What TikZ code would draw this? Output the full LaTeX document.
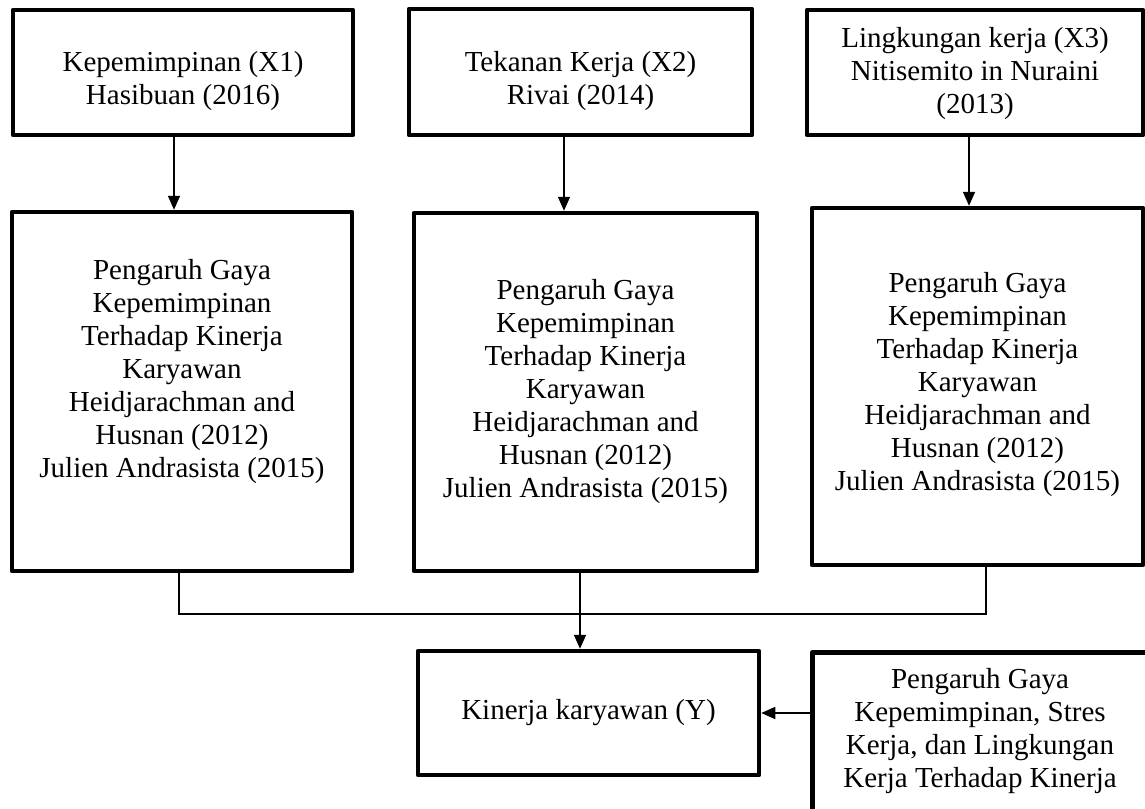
\documentclass[tikz,border=0pt]{standalone}
\usepackage{fontspec}
\setmainfont{Liberation Serif}
\usetikzlibrary{arrows.meta}
\begin{document}
\begin{tikzpicture}[x=1pt,y=-1pt,
  box/.style={draw, line width=4.5pt, line join=round, inner sep=0pt},
  txt/.style={align=center, font=\fontsize{29}{33}\selectfont, inner sep=0pt},
  conn/.style={line width=1.6pt},
  arr/.style={conn, -{Triangle[width=12pt,length=14pt]}}]
\useasboundingbox (0,0) rectangle (1145,808);
\begin{scope}
\clip (0,0) rectangle (1145,808);
% top boxes
\node[box, minimum width=340pt, minimum height=125pt] (b1) at (183,72.5) {};
\node[box, minimum width=343pt, minimum height=126pt] (b2) at (580.5,72) {};
\node[box, minimum width=336pt, minimum height=125pt] (b3) at (975,72.5) {};
\node[txt] (t1) at (183,81) {Kepemimpinan (X1)\\Hasibuan (2016)};
\node[txt] (t2) at (580.5,81) {Tekanan Kerja (X2)\\Rivai (2014)};
\node[txt] (t3) at (975,74) {Lingkungan kerja (X3)\\Nitisemito in Nuraini\\(2013)};
% middle boxes
\node[box, minimum width=340pt, minimum height=359pt] (b4) at (182,391.5) {};
\node[box, minimum width=343pt, minimum height=358pt] (b5) at (585.5,392) {};
\node[box, minimum width=331pt, minimum height=357pt] (b6) at (977.5,386.5) {};
\node[txt] (t4) at (182,372) {Pengaruh Gaya\\Kepemimpinan\\Terhadap Kinerja\\Karyawan\\Heidjarachman and\\Husnan (2012)\\Julien Andrasista (2015)};
\node[txt] (t5) at (585.5,392) {Pengaruh Gaya\\Kepemimpinan\\Terhadap Kinerja\\Karyawan\\Heidjarachman and\\Husnan (2012)\\Julien Andrasista (2015)};
\node[txt] (t6) at (977.5,385) {Pengaruh Gaya\\Kepemimpinan\\Terhadap Kinerja\\Karyawan\\Heidjarachman and\\Husnan (2012)\\Julien Andrasista (2015)};
% bottom boxes
\node[box, minimum width=341pt, minimum height=124pt] (k) at (588.5,713) {};
\node[txt] (tk) at (588.5,713) {Kinerja karyawan (Y)};
\node[box, minimum width=340pt, minimum height=190pt, anchor=north west] (r) at (810,650) {};
\node[txt, anchor=north] (tr) at (980,668) {Pengaruh Gaya\\Kepemimpinan, Stres\\Kerja, dan Lingkungan\\Kerja Terhadap Kinerja};
% connectors
\draw[arr] ([xshift=-9pt]b1.south) -- ([xshift=-9pt]b1.south |- b4.north);
\draw[arr] ([xshift=-16.5pt]b2.south) -- ([xshift=-16.5pt]b2.south |- b5.north);
\draw[arr] ([xshift=-6pt]b3.south) -- ([xshift=-6pt]b3.south |- b6.north);
\coordinate (hl) at (0,614);
\draw[conn] ([xshift=-3pt]b4.south) |- ([xshift=8.5pt]b6.south |- hl) -- ([xshift=8.5pt]b6.south);
\draw[arr] ([xshift=-5.5pt]b5.south) -- ([xshift=-5.5pt]b5.south |- k.north);
\draw[arr] (k.east -| r.west) -- (k.east);
\end{scope}
\end{tikzpicture}
\end{document}
